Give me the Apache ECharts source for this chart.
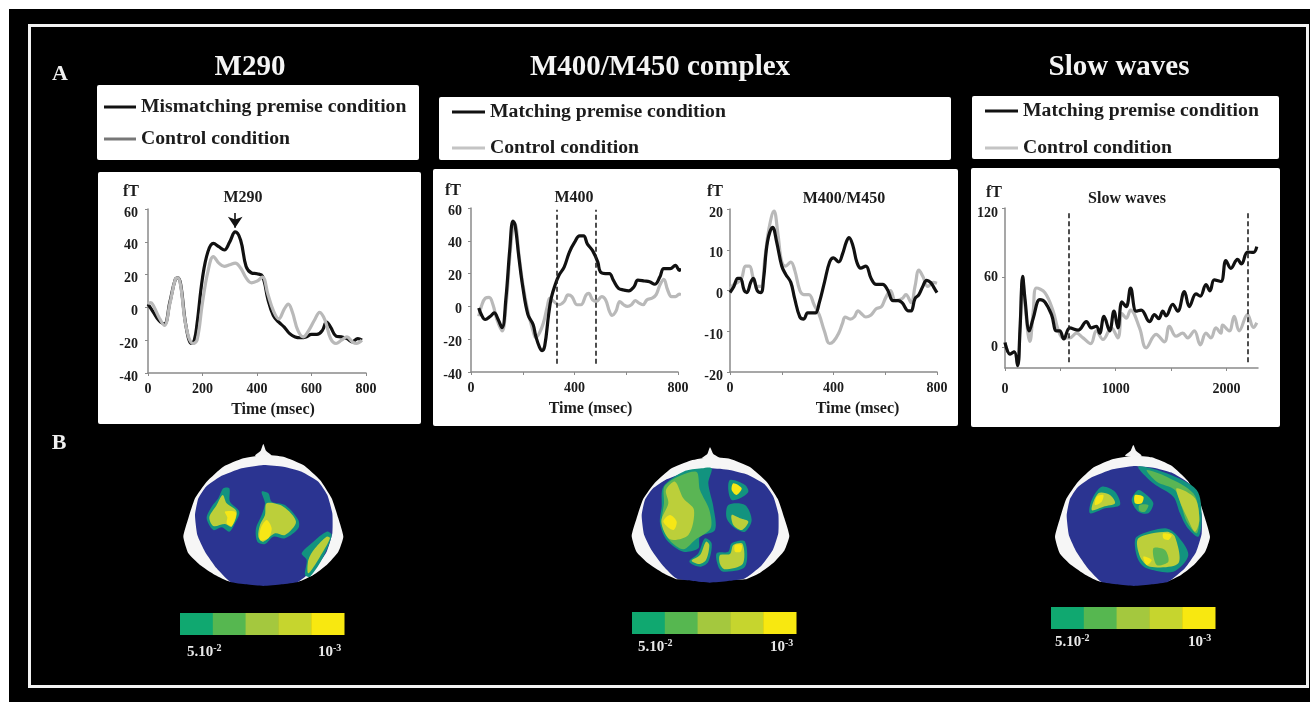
<!DOCTYPE html>
<html><head><meta charset="utf-8">
<style>html,body{margin:0;padding:0;background:#fff}#c{width:1310px;height:702px}</style>
<script src="https://cdn.jsdelivr.net/npm/echarts@6/dist/echarts.min.js"></script>
</head><body><div id="c"></div>
<script>
// ---------- data ----------
const m290MismatchTimes = [0,20,40,60,80,100,110,120,140,160,170,180,200,220,240,260,280,300,320,340,360,380,400,420,440,460,480,500,520,540,560,580,600,620,640,655,670,690,710,730,750,770,785];
const m290MismatchValues = [2,-3,-8,-10,3,17,18,14,-12,-22,-20,-10,18,34,39,37,35,40,46,41,25,21,20.5,19,5,-5,-9,-12,-16,-18,-18.5,-18,-16.5,-16.5,-14,-9,-12,-17.5,-18,-19,-21,-19,-20];
const m290ControlTimes = [0,10,20,40,60,80,100,110,120,140,165,180,200,220,240,260,280,300,320,340,360,380,400,420,440,460,480,500,515,530,550,570,590,610,630,650,670,690,710,730,750,765,785];
const m290ControlValues = [2,3,1,-6,-11,2,17,18,13,-12,-22,-20,3,22,31,27,25,26,27,24,18,15,16,18.5,8,-2,-7,-1,2,-3,-14,-18,-14,-8,-3,-8,-19,-22,-20,-18,-21,-22,-20];

const m400MatchTimes = [30,40,55,75,90,105,120,135,150,162,170,185,200,220,240,250,265,275,285,300,310,325,340,360,380,400,420,435,450,470,490,500,520,535,550,570,590,610,630,645,670,690,710,730,745,770,790,805,812];
const m400MatchValues = [-1,-5,-8,-6,-4,-8,-13,5,35,52,50,30,12,-5,-11,-18,-25,-27,-24,-5,5,13,19,24,33,39,43,43,38,34,27,21,20,20,16,11,10,9.5,12,16,15.5,15,13.5,18,23,23,25,22,23];
const m400ControlTimes = [30,40,55,70,85,100,120,135,150,162,170,185,200,220,240,250,265,280,295,305,320,340,360,375,390,410,425,445,455,470,485,505,520,535,545,560,575,590,605,620,635,650,665,680,700,715,730,745,760,775,790,805,812];
const m400ControlValues = [-6,0,5,5.5,1,-8,-15,0,30,48,50,32,14,-3,-15,-19,-16,-10,0,5,3,1,3,7,6,1,1,7,8,4,3,6,4,-3,-5.5,-3,3,1,0,1,3.5,2,1,4,5,7,13,16.5,10,6,6,7.5,7];

const m450MatchTimes = [0,15,30,40,55,65,80,90,105,120,130,145,165,180,200,215,235,250,270,285,300,315,330,345,365,385,400,420,435,450,460,475,490,505,525,545,565,590,610,630,650,665,690,700,715,730,745,760,775,790,800];
const m450MatchValues = [-0.5,1,3,3,0,-0.5,2,3,0,-0.5,3,12,15.5,12,6,4,2,-2,-6.5,-7,-5.5,-5.5,-5.5,-3,2,7,8,7,9,12,13,11,7,5.5,6,3,1.5,1.5,0,-2.5,-2.5,-3,-5,-5,-2,-1,1,2.5,2,0.5,-0.5];
const m450ControlTimes = [0,15,30,45,60,75,90,105,120,135,150,170,185,200,215,235,250,270,285,305,325,345,365,385,400,420,435,445,465,480,495,505,525,545,565,585,600,620,640,665,680,700,715,730,745,765,785,800];
const m450ControlValues = [0.5,1.5,2,3,6,6,3,1,1,8,15,19.5,14,7,6,7,5,0,-1,-1,-3.5,-6,-10,-13,-12.5,-10.5,-8,-6.5,-7,-6.5,-5,-5.5,-6.5,-6,-4.5,-4,-2,0,-2.5,-2,-1,-3,1,5,3.5,1,2,1.8];

const slowMatchTimes = [0,45,84,114,135,160,180,220,255,315,360,420,465,495,531,585,660,735,780,825,855,894,945,984,1020,1056,1095,1134,1185,1230,1305,1350,1389,1425,1455,1515,1560,1620,1665,1725,1764,1815,1851,1890,1950,1995,2040,2100,2136,2190,2244,2274];
const slowMatchValues = [4,-6,-4,-16,14,61,42,14,25,41,39,28,14,14,7,16.6,14.6,22,16.6,18,12,26.5,14,31,16.6,39,35,51,31,32,22,28,24.6,31,27,37,31,48,35,46,44,54,48.6,58,56.6,74.6,68,75.7,71.7,82,81.7,86.6];
const slowControlTimes = [0,45,84,114,135,160,180,225,255,285,360,435,480,525,585,645,705,774,825,885,960,1020,1056,1095,1134,1215,1275,1365,1440,1485,1545,1605,1650,1710,1764,1815,1860,1905,1950,1965,2025,2070,2115,2190,2244,2274];
const slowControlValues = [4,-6,-4,-15,14,59,37,5,31,51,47,31,15,8,8,12,8,3,14,6.6,16.6,8,29,25,32,16.6,-0.6,11,4.6,18,9.4,12,8,14,2,12,8,16.6,12,19,14,26.6,14,28,17,21];

const m400Window = [333,483];
const m450Window = [351,502];
const slowWindow = [579,2190];

const mismatchName = 'Mismatching premise condition';
const matchName = 'Matching premise condition';
const controlName = 'Control condition';
const panelTitles = ['M290','M400/M450 complex','Slow waves'];
const sectionLabels = ['A','B'];

// ---------- head-map illustrations (outline points, 3x local units) ----------
const NAVY='#2b3491', TEAL='#12937f', GREEN='#5ab554', LIME='#bccf3a', YEL='#f6e716';
const brainOutline=[[280,75],[340,80],[395,95],[445,125],[472,165],[487,220],[487,280],[470,335],[435,385],[385,425],[335,433],[280,438],[230,433],[180,425],[140,385],[105,335],[82,285],[75,225],[85,175],[108,140],[150,110],[215,85]];
const skullOutline=[[280,45],[340,50],[400,75],[450,120],[485,175],[505,235],[520,290],[505,335],[470,375],[430,405],[385,425],[180,425],[135,405],[90,375],[55,340],[40,290],[55,235],[75,175],[110,125],[160,80],[220,55]];
const fit=(pts,x0,x1,y0,y1)=>{ // re-fit a template outline into a head's own box
 const xs=pts.map(p=>p[0]),ys=pts.map(p=>p[1]);
 const a=Math.min(...xs),b=Math.max(...xs),c=Math.min(...ys),d=Math.max(...ys);
 return pts.map(p=>[x0+(p[0]-a)*(x1-x0)/(b-a),y0+(p[1]-c)*(y1-y0)/(d-c)]);
};
const heads = [
 {at:[170,440],
  nose:[[255,47],[272,32],[280,12],[288,32],[305,47]],
  skull:fit(skullOutline,40,520,45,425),
  brain:fit(brainOutline,75,487,75,438),
  blobs:[
   [TEAL,[[160,145],[178,145],[180,185],[208,215],[195,250],[178,275],[155,262],[130,270],[110,235],[125,200],[145,175]]],
   [LIME,[[158,165],[170,190],[200,215],[185,260],[165,252],[130,258],[118,232],[140,195]]],
   [YEL,[[165,215],[198,218],[185,258],[170,250],[172,232]]],
   [TEAL,[[275,155],[295,160],[305,185],[345,195],[385,240],[385,265],[345,295],[310,290],[285,312],[262,305],[258,265],[275,225],[285,190]]],
   [LIME,[[290,190],[340,200],[378,245],[345,285],[315,280],[280,305],[265,290],[270,255],[285,225]]],
   [YEL,[[290,240],[305,265],[295,295],[270,300],[272,265]]],
   [TEAL,[[470,275],[485,285],[460,350],[420,410],[405,405],[410,360],[395,340],[430,305]]],
   [LIME,[[470,290],[480,295],[450,350],[415,400],[415,360],[435,325]]]
  ]},
 {at:[620,440],
  nose:[[245,55],[262,42],[270,22],[280,42],[300,55]],
  skull:fit(skullOutline,35,508,52,418),
  brain:fit(brainOutline,65,475,85,428),
  blobs:[
   [TEAL,[[245,85],[275,85],[265,130],[280,200],[285,270],[240,290],[235,325],[190,335],[140,300],[120,250],[125,200],[130,140],[190,95]]],
   [GREEN,[[228,95],[240,150],[268,210],[272,265],[225,300],[190,328],[148,300],[126,250],[132,190],[136,135]]],
   [LIME,[[165,125],[190,175],[222,210],[205,285],[150,298],[124,245],[145,190],[138,150]]],
   [YEL,[[150,225],[170,245],[160,270],[130,245]]],
   [TEAL,[[330,120],[375,135],[385,155],[360,175],[335,180],[325,150]]],
   [YEL,[[340,130],[365,145],[350,165],[335,150]]],
   [TEAL,[[325,195],[375,195],[395,240],[375,275],[345,265],[320,235]]],
   [LIME,[[335,225],[360,235],[385,245],[365,270],[340,255]]],
   [TEAL,[[255,295],[275,310],[265,365],[240,380],[208,365],[235,340]]],
   [LIME,[[258,305],[268,315],[258,360],[238,372],[215,362],[240,345]]],
   [TEAL,[[335,310],[375,305],[375,380],[310,395],[295,380],[290,340],[325,335]]],
   [LIME,[[340,315],[368,312],[368,372],[315,388],[300,372],[300,345],[330,342]]],
   [YEL,[[345,315],[365,315],[362,335],[345,335]]]
  ]},
 {at:[1040,440],
  nose:[[255,47],[272,32],[280,15],[288,32],[305,47]],
  skull:fit(skullOutline,45,510,47,425),
  brain:fit(brainOutline,80,485,78,438),
  blobs:[
   [TEAL,[[295,80],[380,100],[470,150],[485,230],[475,290],[440,260],[420,220],[400,170],[340,130]]],
   [GREEN,[[320,90],[380,110],[460,160],[478,230],[470,280],[440,245],[425,200],[405,150],[350,125]]],
   [LIME,[[410,145],[465,175],[478,240],[465,275],[440,230],[420,185]]],
   [TEAL,[[185,140],[225,155],[240,195],[195,205],[150,220],[155,180]]],
   [LIME,[[175,160],[210,165],[225,190],[190,200],[155,210]]],
   [YEL,[[170,170],[190,165],[185,185],[165,195]]],
   [TEAL,[[295,150],[320,165],[340,190],[325,220],[295,215],[275,180]]],
   [GREEN,[[298,195],[325,195],[315,215],[298,212]]],
   [YEL,[[285,165],[310,170],[305,190],[285,190]]],
   [TEAL,[[290,290],[375,265],[410,285],[445,345],[400,395],[320,385],[295,360],[285,320]]],
   [LIME,[[295,295],[380,275],[405,290],[415,370],[330,380],[300,350]]],
   [GREEN,[[340,325],[375,330],[385,365],[350,375]]],
   [YEL,[[370,280],[395,285],[385,300],[370,295]]],
   [YEL,[[310,350],[335,360],[320,375]]]
  ]}
];
const barColors=['#10a870','#56b750','#a4c83e','#c6d52e','#f8e810'];
const barLow='5.10', barLowExp='-2', barHigh='10', barHighExp='-3';

// ---------- layout ----------
const FONT='"Liberation Serif","Times New Roman",serif';
const ink='#1c1c1c', axisGrey='#8a8a8a';
const zip=(a,b)=>a.map((t,i)=>[t,b[i]]);

const grids=[
 {left:148,top:209,width:218,height:164},
 {left:471,top:208,width:207,height:164},
 {left:730,top:209,width:207,height:163},
 {left:1005,top:208,width:253,height:160}
];
const xCfg=[
 {max:800,ticks:[0,200,400,600,800],labels:[0,200,400,600,800],name:'Time (msec)',pad:32},
 {max:800,ticks:[0,200,400,600,800],labels:[0,400,800],name:'Time (msec)',pad:32},
 {max:800,ticks:[0,200,400,600,800],labels:[0,400,800],name:'Time (msec)',pad:48},
 {max:2285,ticks:[0,500,1000,1500,2000],labels:[0,1000,2000],name:'',pad:0}
];
const yCfg=[
 {min:-40,max:60,ticks:[-40,-20,0,20,40,60],shift:4,margin:10,namePad:9,nameGap:9},
 {min:-40,max:60,ticks:[-40,-20,0,20,40,60],shift:3,margin:9,namePad:10,nameGap:9},
 {min:-20,max:20,ticks:[-20,-10,0,10,20],shift:4,margin:7,namePad:7,nameGap:9},
 {min:-18,max:120,ticks:[0,60,120],shift:0,margin:7,namePad:3,nameGap:7}
];
const axisLabel=(vals,extra)=>Object.assign({show:true,customValues:vals,color:ink,fontFamily:FONT,fontWeight:'bold',fontSize:14,formatter:v=>String(v)},extra);

const xAxis=xCfg.map((c,i)=>({
 type:'value',gridIndex:i,min:0,max:c.max,z:3,
 splitLine:{show:false},
 axisLine:{show:true,onZero:false,lineStyle:{color:axisGrey,width:1.5}},
 axisTick:{show:true,customValues:c.ticks,length:3,lineStyle:{color:axisGrey}},
 axisLabel:axisLabel(c.labels,{margin:i===3?14:9}),
 name:c.name,nameLocation:'middle',nameGap:29,
 nameTextStyle:{color:ink,fontFamily:FONT,fontWeight:'bold',fontSize:16,padding:[0,0,0,c.pad]}
}));
const yAxis=yCfg.map((c,i)=>({
 type:'value',gridIndex:i,min:c.min,max:c.max,z:3,
 splitLine:{show:false},
 axisLine:{show:true,onZero:false,lineStyle:{color:axisGrey,width:1.5}},
 axisTick:{show:true,customValues:c.ticks,length:3,lineStyle:{color:axisGrey}},
 axisLabel:axisLabel(c.ticks,c.shift?{margin:c.margin,verticalAlign:'top',lineHeight:c.shift*2}:{margin:c.margin,lineHeight:10,verticalAlignMaxLabel:'top'}),
 name:'fT',nameLocation:'end',nameGap:c.nameGap,
 nameTextStyle:{color:ink,fontFamily:FONT,fontWeight:'bold',fontSize:16,align:'right',padding:[0,c.namePad,0,0]}
}));

const dashes=(xs,lo,hi)=>({
 silent:true,symbol:'none',animation:false,label:{show:false},
 lineStyle:{color:'#222',type:[5,3],width:1.6},
 data:xs.map(x=>[{coord:[x,lo]},{coord:[x,hi]}])
});
const line=(name,i,times,vals,color,extra)=>Object.assign({
 type:'line',name,xAxisIndex:i,yAxisIndex:i,data:zip(times,vals),
 showSymbol:false,symbol:'none',smooth:0.4,clip:false,animation:false,
 lineStyle:{color,width:3.2},itemStyle:{color},z:3
},extra||{});
const GREY='#b9b9b9', BLACK='#111';

const series=[
 line(mismatchName,0,m290MismatchTimes,m290MismatchValues,BLACK,{
  markLine:{silent:true,animation:false,symbol:['none','arrow'],symbolSize:11,label:{show:false},
   lineStyle:{color:'#111',type:'solid',width:1.6},
   data:[[{coord:[m290MismatchTimes[18],57.5]},{coord:[m290MismatchTimes[18],48.5]}]]}
 }),
 line(controlName,0,m290ControlTimes,m290ControlValues,GREY),
 line(controlName,1,m400ControlTimes,m400ControlValues,GREY),
 line(matchName,1,m400MatchTimes,m400MatchValues,BLACK,{markLine:dashes(m400Window,-35,59)}),
 line(controlName,2,m450ControlTimes,m450ControlValues,GREY),
 line(matchName,2,m450MatchTimes,m450MatchValues,BLACK,{markLine:dashes(m450Window,-17,20.5)}),
 line(controlName,3,slowControlTimes,slowControlValues,GREY),
 line(matchName,3,slowMatchTimes,slowMatchValues,BLACK,{markLine:dashes(slowWindow,-13,118)})
];

const legendEntry=(name,color)=>({name,icon:'rect',itemStyle:{color,borderWidth:0}});
const legendBase=(left,top,gap,width,items)=>({
 show:true,orient:'vertical',left,top,itemGap:gap,padding:0,itemWidth:width,itemHeight:3,
 selectedMode:false,z:5,data:items,
 textStyle:{color:ink,fontFamily:FONT,fontWeight:'bold',fontSize:19.7,lineHeight:18}
});
const legend=[
 legendBase(104,97,12,32,[legendEntry(mismatchName,'#111'),legendEntry(controlName,'#777')]),
 legendBase(452,102,16,33,[legendEntry(matchName,'#111'),legendEntry(controlName,'#c4c4c4')]),
 legendBase(985,101,17,33,[legendEntry(matchName,'#111'),legendEntry(controlName,'#c4c4c4')])
];

// ---------- page furniture ----------
const g=[];
const rect=(x,y,w,h,fill,extra)=>g.push(Object.assign({type:'rect',shape:{x,y,width:w,height:h},style:{fill},z:-10},extra||{}));
const txt=(x,y,text,size,fill,align,extra)=>g.push(Object.assign({type:'text',x,y,z:10,style:{text,fill,font:'bold '+size+'px '+FONT,textAlign:align||'center',textVerticalAlign:'middle'}},extra||{}));

rect(9,9,1301,693,'#000');
g.push({type:'rect',shape:{x:29.5,y:25.5,width:1278,height:661},style:{fill:'none',stroke:'#f2f2f2',lineWidth:3},z:-9});
[[97,85,322,75],[439,97,512,63],[972,96,307,63],[98,172,323,252],[433,169,525,257],[971,168,309,259]].forEach(r=>
 g.push({type:'rect',shape:{x:r[0],y:r[1],width:r[2],height:r[3],r:2},style:{fill:'#fff'},z:-8}));

txt(250,68,panelTitles[0],29,'#f4f4f4');
txt(660,68,panelTitles[1],29,'#f4f4f4');
txt(1119,68,panelTitles[2],29,'#f4f4f4');
txt(60,74,sectionLabels[0],22,'#f0f0f0');
txt(59,443,sectionLabels[1],22,'#f0f0f0');
txt(243,198,'M290',16,ink);
txt(574,198,'M400',16,ink);
txt(844,199,'M400/M450',16,ink);
txt(1127,199,'Slow waves',16,ink);

heads.forEach(h=>{
 const poly=(pts,fill,smooth)=>({type:'polygon',shape:{points:pts,smooth:smooth},style:{fill}});
 g.push({type:'group',x:h.at[0],y:h.at[1],scaleX:1/3,scaleY:1/3,z:1,children:[
  poly(h.nose,'#f4f4f4',0.2),
  poly(h.skull,'#f6f6f6',0.15),
  poly(h.brain,NAVY,0.15),
  ...h.blobs.map(b=>poly(b[1],b[0],0.3))
 ]});
});

const bars=[{x:180,y:613,lowX:187,highX:318,ty:652},{x:632,y:612,lowX:638,highX:770,ty:647},{x:1051,y:607,lowX:1055,highX:1188,ty:642}];
bars.forEach(b=>{
 const w=164,h=22;
 barColors.forEach((c,i)=>g.push({type:'rect',shape:{x:b.x+i*w/5,y:b.y,width:w/5+0.5,height:h},style:{fill:c},z:1}));
 const rich={b:{font:'bold 15px '+FONT,fill:'#e8e8e8'},s:{font:'bold 10px '+FONT,fill:'#e8e8e8',verticalAlign:'top',padding:[0,0,8,0]}};
 g.push({type:'text',x:b.lowX,y:b.ty,z:3,style:{text:'{b|'+barLow+'}{s|'+barLowExp+'}',rich,textVerticalAlign:'middle'}});
 g.push({type:'text',x:b.highX,y:b.ty,z:3,style:{text:'{b|'+barHigh+'}{s|'+barHighExp+'}',rich,textVerticalAlign:'middle'}});
});

const chart=echarts.init(document.getElementById('c'),null,{renderer:'canvas'});
chart.setOption({
 animation:false,backgroundColor:'#ffffff',
 grid:grids.map(o=>Object.assign({containLabel:false},o)),
 xAxis,yAxis,series,legend,
 graphic:{elements:g}
});
</script></body></html>
